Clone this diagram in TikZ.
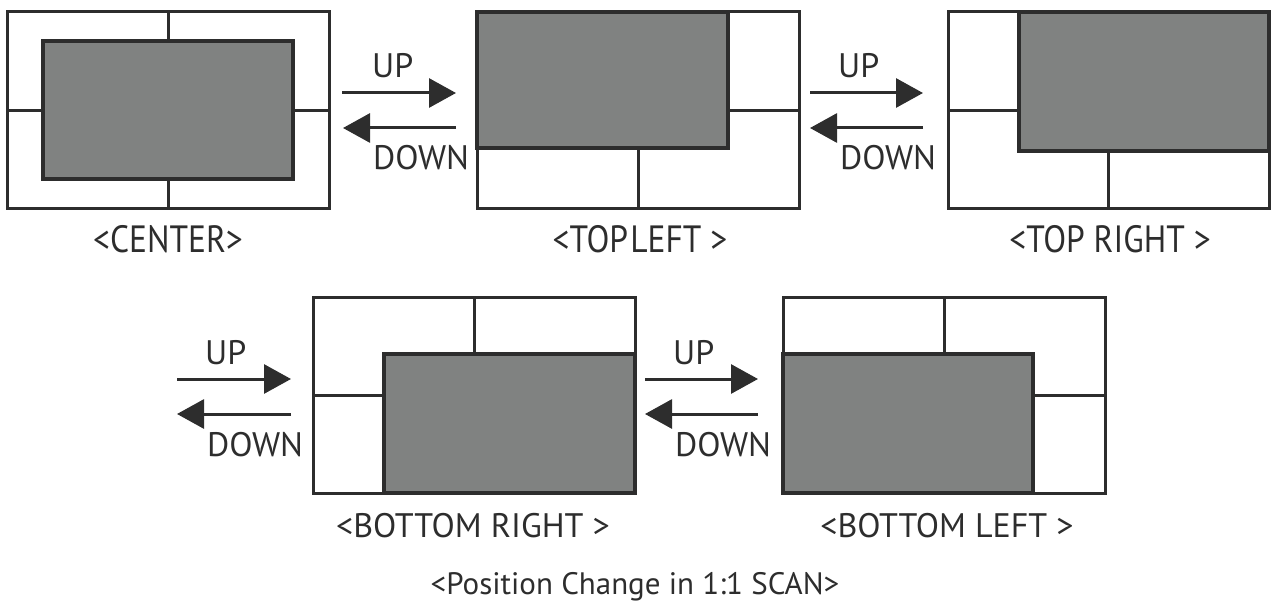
\documentclass[tikz,border=0pt]{standalone}
\usepackage{fontspec}
\usepackage{graphicx}
\setmainfont{PT Sans}
\usetikzlibrary{arrows.meta}
\definecolor{ink}{RGB}{45,45,45}
\definecolor{screen}{RGB}{128,130,129}
\begin{document}
\begin{tikzpicture}[x=1pt,y=-1pt,
  frame/.style={draw=ink,line width=3pt,fill=white,inner sep=0pt,outer sep=0pt,anchor=north west},
  win/.style={draw=ink,line width=3.5pt,fill=screen,inner sep=0pt,outer sep=0pt,anchor=north west},
  divider/.style={draw=ink,line width=3pt},
  flow/.style={draw=ink,line width=3pt,-{Triangle[length=27pt,width=29pt]}},
  word/.style={font=\fontsize{34}{40}\selectfont,text=ink,inner sep=0pt,anchor=base west},
  toplabel/.style={font=\fontsize{38}{44}\selectfont,text=ink,inner sep=0pt,anchor=base},
  botlabel/.style={font=\fontsize{34}{40}\selectfont,text=ink,inner sep=0pt,anchor=base},
  caption/.style={font=\fontsize{31}{36}\selectfont,text=ink,inner sep=0pt,anchor=base}
]
\useasboundingbox (0,0) rectangle (1271,604);

% ---------- CENTER ----------
\node[frame,minimum width=322pt,minimum height=197pt] (c) at (7,12) {};
\node[win,minimum width=250pt,minimum height=138pt] (cw) at (43,41) {};
\draw[divider] (c.north) -- (cw.north);
\draw[divider] (cw.south) -- (c.south);
\draw[divider] (c.west) -- (cw.west |- c.west);
\draw[divider] (cw.east |- c.east) -- (c.east);
\node[toplabel] (cl) at (168,252) {\scalebox{0.88}[1]{<CENTER>}};

% ---------- TOP LEFT ----------
\node[frame,minimum width=322pt,minimum height=197pt] (tl) at (477,12) {};
\node[win,minimum width=251pt,minimum height=136pt] (tlw) at (477,12) {};
\draw[divider] (tlw.east |- tl.east) -- (tl.east);
\draw[divider] (tl.south |- tlw.south) -- (tl.south);
\node[toplabel] (tll) at (640,252) {\scalebox{0.88}[1]{<TOP\kern-0.2em{} LEFT >}};

% ---------- TOP RIGHT ----------
\node[frame,minimum width=321pt,minimum height=197pt] (tr) at (948,12) {};
\node[win,minimum width=250pt,minimum height=139pt] (trw) at (1019,12) {};
\draw[divider] (tr.west) -- (trw.west |- tr.west);
\draw[divider] (tr.south |- trw.south) -- (tr.south);
\node[toplabel] (trl) at (1110,252) {\scalebox{0.88}[1]{<TOP RIGHT >}};

% ---------- BOTTOM RIGHT ----------
\node[frame,minimum width=322pt,minimum height=196pt] (br) at (313,297) {};
\node[win,minimum width=251pt,minimum height=139pt] (brw) at (384,354) {};
\draw[divider] (br.north) -- (br.north |- brw.north);
\draw[divider] (br.west) -- (brw.west |- br.west);
\node[botlabel] (brl) at (473,537) {<BOTTOM RIGHT >};

% ---------- BOTTOM LEFT ----------
\node[frame,minimum width=322pt,minimum height=196pt] (bl) at (783,297) {};
\node[win,minimum width=250pt,minimum height=139pt] (blw) at (783,354) {};
\draw[divider] (bl.north) -- (bl.north |- blw.north);
\draw[divider] (blw.east |- bl.east) -- (bl.east);
\node[botlabel] (bll) at (947,537) {<BOTTOM LEFT >};

% ---------- arrows ----------
\coordinate (a1l) at (342,93);  \coordinate (a1r) at (456,93);
\coordinate (b1l) at (343,128); \coordinate (b1r) at (456,128);
\draw[flow] (a1l) -- (a1r);
\draw[flow] (b1r) -- (b1l);
\node[word] (u1) at (372,78) {UP};
\node[word] (d1) at (373,170) {DOWN};

\coordinate (a2l) at (810,93);  \coordinate (a2r) at (923,93);
\coordinate (b2l) at (810,128); \coordinate (b2r) at (923,128);
\draw[flow] (a2l) -- (a2r);
\draw[flow] (b2r) -- (b2l);
\node[word] (u2) at (838,78) {UP};
\node[word] (d2) at (840,170) {DOWN};

\coordinate (a3l) at (177,379); \coordinate (a3r) at (291,379);
\coordinate (b3l) at (177,414); \coordinate (b3r) at (291,414);
\draw[flow] (a3l) -- (a3r);
\draw[flow] (b3r) -- (b3l);
\node[word] (u3) at (205,364) {UP};
\node[word] (d3) at (207,456) {DOWN};

\coordinate (a4l) at (645,379); \coordinate (a4r) at (758,379);
\coordinate (b4l) at (645,414); \coordinate (b4r) at (758,414);
\draw[flow] (a4l) -- (a4r);
\draw[flow] (b4r) -- (b4l);
\node[word] (u4) at (673,364) {UP};
\node[word] (d4) at (675,456) {DOWN};

% ---------- caption ----------
\node[caption] (cap) at (635,594) {<Position Change in 1:1 SCAN>};
\end{tikzpicture}
\end{document}
